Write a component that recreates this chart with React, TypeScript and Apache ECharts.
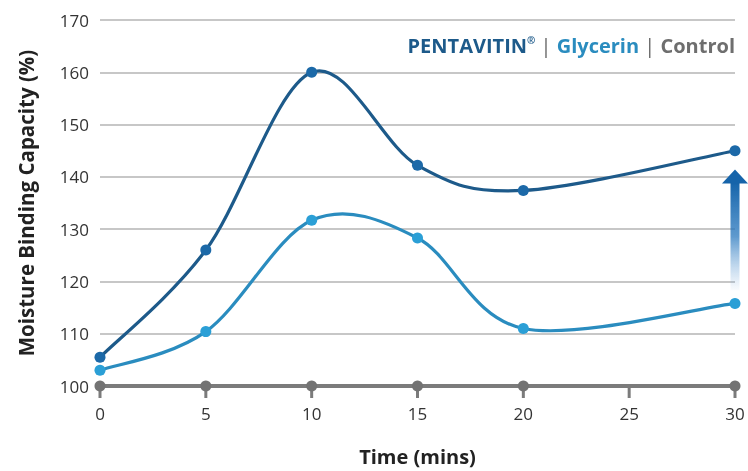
import React, { useEffect, useRef } from "react";
import * as echarts from "echarts";

const timePoints = [0, 5, 10, 15, 20, 30];
const pentavitin = [105.5, 126, 160, 142.2, 137.4, 145];
const glycerin = [103, 110.4, 131.7, 128.3, 111, 115.8];
const control = [100, 100, 100, 100, 100, 100];
const xTicks = [0, 5, 10, 15, 20, 25, 30];
const yTicks = [100, 110, 120, 130, 140, 150, 160, 170];

const FONT = "'Open Sans', 'Noto Sans', sans-serif";

// Catmull-Rom style smooth curve (tangent = (next - prev) / 6) drawn per segment
function smoothSeries(name: string, values: number[], color: string, z: number) {
  const pts = timePoints.map((t, i) => [t, values[i]]);
  return {
    name,
    type: "custom",
    data: pts,
    z,
    silent: true,
    renderItem: (params: any, api: any) => {
      const i = params.dataIndex;
      if (i >= pts.length - 1) return null;
      const P = (k: number) => api.coord(pts[Math.max(0, Math.min(pts.length - 1, k))]);
      const p0 = P(i - 1), p1 = P(i), p2 = P(i + 1), p3 = P(i + 2);
      const k = 1 / 6;
      return {
        type: "bezierCurve",
        shape: {
          x1: p1[0], y1: p1[1],
          x2: p2[0], y2: p2[1],
          cpx1: p1[0] + (p2[0] - p0[0]) * k,
          cpy1: p1[1] + (p2[1] - p0[1]) * k,
          cpx2: p2[0] - (p3[0] - p1[0]) * k,
          cpy2: p2[1] - (p3[1] - p1[1]) * k,
        },
        style: { stroke: color, lineWidth: 3.2, fill: null, lineCap: "round" },
      };
    },
  };
}

export default function App() {
  const ref = useRef<HTMLDivElement>(null);
  useEffect(() => {
    if (!ref.current) return;
    const chart = echarts.init(ref.current, undefined, { renderer: "svg" });
    const pair = (arr: number[]) => timePoints.map((t, i) => [t, arr[i]]);
    chart.setOption({
      animation: false,
      grid: { left: 100, right: 13, top: 20, bottom: 81 },
      xAxis: {
        type: "value",
        min: 0,
        max: 30,
        interval: 5,
        name: "Time (mins)",
        nameLocation: "middle",
        nameGap: 60,
        nameTextStyle: { fontFamily: FONT, fontSize: 20, fontWeight: "bold", color: "#222" },
        axisLine: { show: true, lineStyle: { color: "#777", width: 4 } },
        axisTick: { show: false },
        axisLabel: { fontFamily: FONT, fontSize: 17, color: "#333", margin: 19 },
        splitLine: { show: false },
      },
      yAxis: {
        type: "value",
        min: yTicks[0],
        max: yTicks[yTicks.length - 1],
        interval: 10,
        name: "Moisture Binding Capacity (%)",
        nameLocation: "middle",
        nameGap: 64,
        nameTextStyle: { fontFamily: FONT, fontSize: 20.5, fontWeight: "bold", color: "#222" },
        axisLine: { show: false },
        axisTick: { show: false },
        axisLabel: { fontFamily: FONT, fontSize: 17, color: "#333", margin: 11 },
        splitLine: { lineStyle: { color: "#b5b5b5", width: 1.5 } },
      },
      series: [
        {
          name: "Control",
          type: "line",
          data: pair(control),
          symbol: "circle",
          symbolSize: 11,
          lineStyle: { color: "#7b7b7b", width: 4 },
          itemStyle: { color: "#737373" },
          z: 3,
        },
        smoothSeries("Glycerin line", glycerin, "#2a8cbf", 4),
        {
          name: "Glycerin",
          type: "line",
          data: pair(glycerin),
          symbol: "circle",
          symbolSize: 11,
          lineStyle: { opacity: 0 },
          itemStyle: { color: "#2b9fd6" },
          z: 5,
        },
        smoothSeries("PENTAVITIN line", pentavitin, "#1d5a8a", 6),
        {
          name: "PENTAVITIN",
          type: "line",
          data: pair(pentavitin),
          symbol: "circle",
          symbolSize: 11,
          lineStyle: { opacity: 0 },
          itemStyle: { color: "#1c69a8" },
          z: 7,
        },
      ],
    });

    const last = timePoints[timePoints.length - 1];
    const top = chart.convertToPixel({ gridIndex: 0 }, [last, 141.4]) as number[];
    const bottom = chart.convertToPixel({ gridIndex: 0 }, [last, 118.3]) as number[];
    const headH = 14;
    const headW = 26;
    const shaftW = 9;
    const tickEls = xTicks.map((t) => {
      const p = chart.convertToPixel({ gridIndex: 0 }, [t, yTicks[0]]) as number[];
      return {
        type: "rect",
        shape: { x: p[0] - 1.5, y: p[1], width: 3, height: 12 },
        style: { fill: "#7b7b7b" },
        z: 1,
      };
    });
    chart.setOption({
      graphic: [
        ...tickEls,
        {
          type: "rect",
          shape: {
            x: top[0] - shaftW / 2,
            y: top[1] + headH - 1,
            width: shaftW,
            height: bottom[1] - top[1] - headH + 1,
          },
          style: {
            fill: new echarts.graphic.LinearGradient(0, 0, 0, 1, [
              { offset: 0, color: "rgba(22,100,170,1)" },
              { offset: 0.5, color: "rgba(40,120,190,0.75)" },
              { offset: 1, color: "rgba(120,170,220,0.05)" },
            ]),
          },
          z: 10,
        },
        {
          type: "polygon",
          shape: {
            points: [
              [top[0], top[1]],
              [top[0] + headW / 2, top[1] + headH],
              [top[0] - headW / 2, top[1] + headH],
            ],
          },
          style: { fill: "#1664aa" },
          z: 10,
        },
        {
          type: "text",
          right: 13,
          top: 35,
          style: {
            text: "{p|PENTAVITIN}{r|®}{s| | }{g|Glycerin}{s| | }{c|Control}",
            fontFamily: FONT,
            rich: {
              p: { fontFamily: FONT, fontSize: 20, fontWeight: "bold", fill: "#1d5a8a" },
              r: { fontFamily: FONT, fontSize: 10, fontWeight: "bold", fill: "#1d5a8a", verticalAlign: "top", padding: [0, 0, 9, 0] },
              s: { fontFamily: FONT, fontSize: 20, fill: "#666" },
              g: { fontFamily: FONT, fontSize: 20, fontWeight: "bold", fill: "#2a8cbf" },
              c: { fontFamily: FONT, fontSize: 20, fontWeight: "bold", fill: "#6e6e6e" },
            },
          },
          z: 10,
        },
      ],
    });

    return () => chart.dispose();
  }, []);
  return (
    <div
      ref={ref}
      style={{ position: "fixed", left: 0, top: 0, width: 748, height: 471 }}
    />
  );
}
